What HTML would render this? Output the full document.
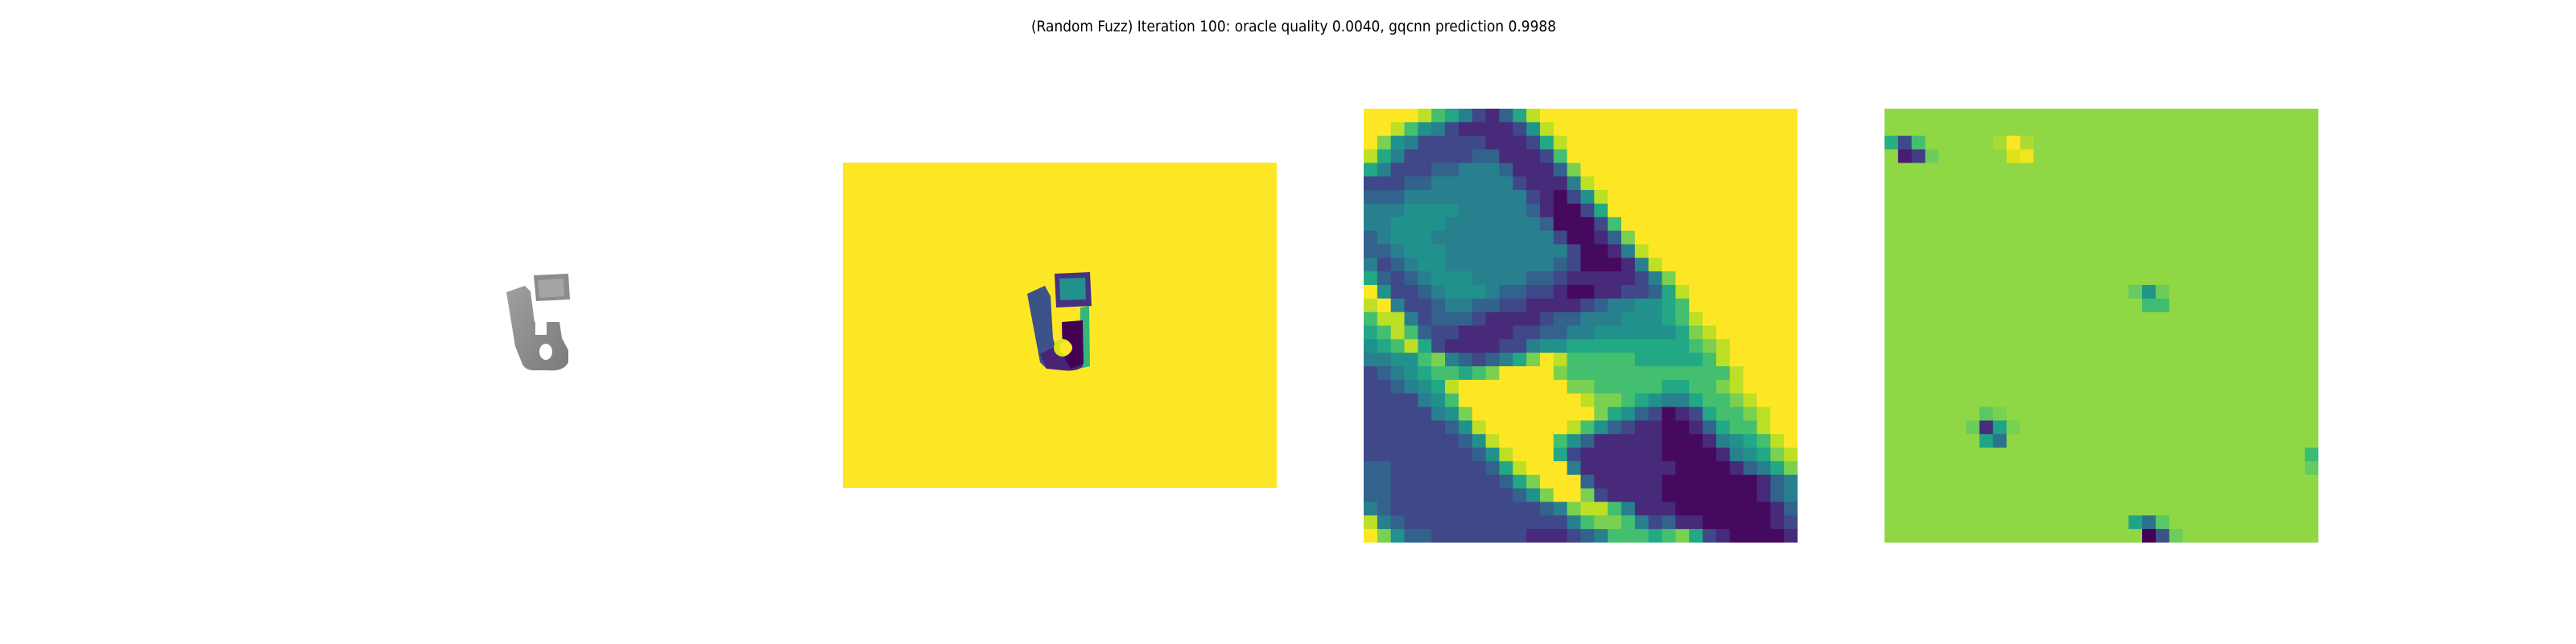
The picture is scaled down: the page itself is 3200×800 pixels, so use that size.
<!DOCTYPE html>
<html><head><meta charset="utf-8">
<style>
html,body{margin:0;padding:0;background:#fff;}
svg{display:block;}
</style></head>
<body>
<svg id="fig" width="3200" height="800" viewBox="0 0 3200 800" xmlns="http://www.w3.org/2000/svg">
  <rect x="0" y="0" width="3200" height="800" fill="#ffffff"/>
  <text x="1607" y="39" text-anchor="middle" font-family="DejaVu Sans, Liberation Sans, sans-serif" font-size="19" textLength="652" lengthAdjust="spacingAndGlyphs" fill="#000">(Random Fuzz) Iteration 100: oracle quality 0.0040, gqcnn prediction 0.9988</text>

  <!-- Panel 1: rendered gray object -->
  <g>
    <defs>
      <linearGradient id="g1" x1="0" y1="0" x2="1" y2="1">
        <stop offset="0" stop-color="#a0a0a0"/><stop offset="1" stop-color="#7a7a7a"/>
      </linearGradient>
    </defs>
    <path d="M629,363 L652,355 L659,362 L662,385 L664,400 L668,400 L668,402 L675,400 L695,400 L698,420 L706,435 L706,450 Q700,462 680,460 L660,460 Q650,458 648,450 L640,430 Z" fill="url(#g1)"/>
    <path d="M663,342 L706,340 L708,372 L666,374 Z" fill="#8c8c8c"/>
    <path d="M668,348 L700,346 L701,368 L670,370 Z" fill="#a5a5a5"/>
    <ellipse cx="678" cy="437" rx="8" ry="10" fill="#ffffff"/>
    <rect x="665" y="386" width="14" height="30" fill="#ffffff"/>
  </g>

  <!-- Panel 2: depth image -->
  <g>
    <rect x="1047" y="202" width="539" height="404" fill="#fde725"/>
    <path d="M1342,382 L1353,380 L1354,455 L1340,458 Z" fill="#35b779"/>
    <path d="M1276,365 L1298,355 L1305,368 L1308,420 L1318,452 L1300,458 L1292,450 Z" fill="#3b528b"/>
    <path d="M1292,440 L1320,425 L1340,430 L1346,440 L1345,455 Q1338,462 1320,460 L1300,458 Z" fill="#482475"/>
    <path d="M1319,400 L1345,398 L1346,452 L1330,458 L1320,440 Z" fill="#440154"/>
    <circle cx="1320" cy="432" r="11" fill="#d8e219"/>
    <circle cx="1324" cy="432" r="8" fill="#fde725"/>
    <path d="M1310,340 L1354,338 L1356,380 L1312,382 Z" fill="#46327e"/>
    <path d="M1316,346 L1348,345 L1349,372 L1317,373 Z" fill="#21918c"/>
  </g>

  <g id="heat3"></g>
  <g id="heat4"></g>
</svg>
<script>
const viridis = ["#450a5e","#472a7a","#3f4889","#33628d","#28808e","#21918c","#22a884","#44bf70","#7ad151","#bddf26","#fde725"];
const crop_rows = [
"AAAA976421369A",
"AA975421111259",
"A85422222111269A",
"964222223311127A",
"6422233444311138A",
"222334444442111 49A",
"3334444444442102 59A",
"4445555444443100 26A",
"4455554444444300 027A",
"3455544444444420 0138A",
"3345554444444442 00149A",
"4234554444444432 000149A",
"6323455544443321 1111248A",
"A522345554332210 01122369A",
"9A42234433221111 2344556 7A",
"799423332111123 34445556 79A",
"6797322111122334 45555556 89A",
"5679621111224556 66666666 789A",
"4455784323468A97 77776666 679A",
"2345677678AAAA87 77777777 7779AA",
"2234569AAAAAAAA8 87777766 778 9AAAA",
"2222457AAAAAAAAA 98876544 6778 9AAA",
"2222245 8AAAAAAAA A8653201 2677 89AA",
"2222223 59AAAAAA 97532110 0136 779AA",
"2222222 359AAAA7 53111110 0014 5679A",
"2222222 2359AAA6 21111110 0001 45689",
"3322222 2236 9AAA4 111111100 00134 68",
"3322222 2223 68AAA3 1111100 000001346",
"3322222 2222 358AA8 2111100 00000134",
"4322222 2222 22348 99741110 0000001 3",
"9432222 2222 22224 7887423110 00001 2",
"A853322 2222 21112 3477767862 10000 1"
].map(r => r.replace(/ /g, ""));
const grad_base = "#8fd744";
const grad_cols = [0,1,2,8,9,10,1,2,3,9,10,18,19,20,19,20,7,8,6,7,8,9,7,8,31,31,18,19,20,19,20,21];
const grad_rowsIdx = [2,2,2,2,2,2,3,3,3,3,3,13,13,13,14,14,22,22,23,23,23,23,24,24,25,26,30,30,30,31,31,31];
const grad_colors = ["#29af7f","#3e4a89","#44bf70","#a8db34","#fde725","#addc30","#471e6f","#433d84","#6ccd5a","#dde318","#f1e51d","#63cb5f","#1f958b","#6ccd5a","#3fbc73","#3fbc73","#58c765","#7ad151","#6ccd5a","#472d7b","#20a486","#77d153","#20a486","#2c718e","#3bbb75","#63cb5f","#20a486","#2c728e","#58c765","#440154","#3b528b","#6ccd5a"];

const NS = "http://www.w3.org/2000/svg";
const N = 32;
function xScale(x0, size){ return i => x0 + i * size / N; }
function drawHeat(gid, x0, y0, size, colorAt){
  const g = document.getElementById(gid);
  const sx = xScale(x0, size), sy = xScale(y0, size);
  for (let r = 0; r < N; r++) {
    for (let c = 0; c < N; c++) {
      const rect = document.createElementNS(NS, "rect");
      rect.setAttribute("x", sx(c).toFixed(2));
      rect.setAttribute("y", sy(r).toFixed(2));
      const w = Math.min(size / N + 0.6, x0 + size - sx(c));
      const h = Math.min(size / N + 0.6, y0 + size - sy(r));
      rect.setAttribute("width", w.toFixed(2));
      rect.setAttribute("height", h.toFixed(2));
      rect.setAttribute("fill", colorAt(r, c));
      
      
      g.appendChild(rect);
    }
  }
}
drawHeat("heat3", 1694, 135, 539, (r, c) => {
  const row = crop_rows[r] || "";
  const ch = c < row.length ? row[c] : "A";
  const v = ch === "A" ? 10 : parseInt(ch, 10);
  return viridis[isNaN(v) ? 10 : v];
});
const gradMap = {};
grad_cols.forEach((c, i) => { gradMap[grad_rowsIdx[i] + "," + c] = grad_colors[i]; });
drawHeat("heat4", 2341, 135, 539, (r, c) => gradMap[r + "," + c] || grad_base);
</script>
</body></html>
